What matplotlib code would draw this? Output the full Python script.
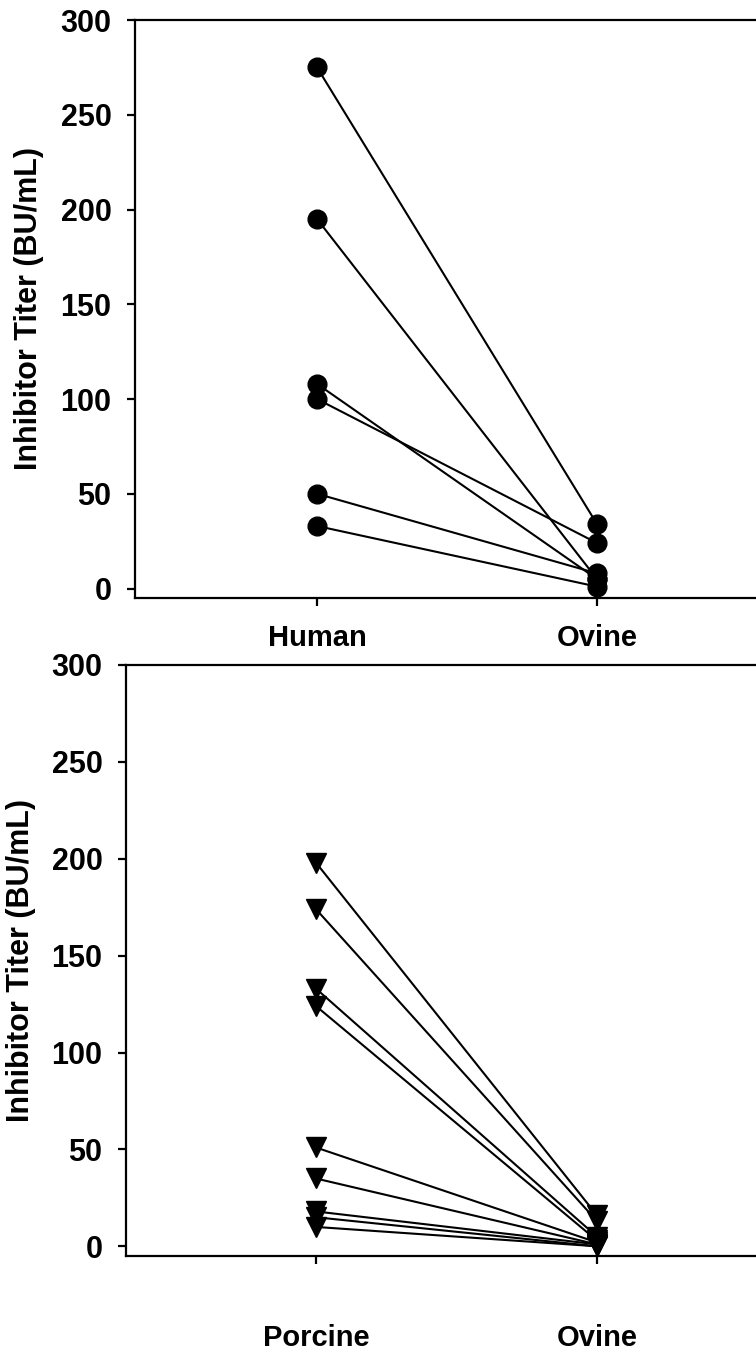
from matplotlib import pyplot as plt

plt.rcParams['font.family'] = ['Liberation Sans', 'DejaVu Sans']
plt.rcParams['font.weight'] = 'bold'

#%% Data (BU/mL)

## Top panel: Human vs Ovine
top_groups = ["Human", "Ovine"]
human = [275, 195, 108, 100, 50, 33]
ovine_top = [34, 5, 5, 24, 8, 1]

## Bottom panel: Porcine vs Ovine
bottom_groups = ["Porcine", "Ovine"]
porcine = [198, 174, 133, 124, 51, 35, 18, 15, 10]
ovine_bottom = [16, 13, 5, 3, 2, 1, 1, 0, 0]

y_ticks = [0, 50, 100, 150, 200, 250, 300]
y_label = 'Inhibitor Titer (BU/mL)'

#%% Figure

fig = plt.figure(figsize=(7.56, 13.68), dpi=100)

W, H = 756, 1368


def make_axes(left_px, top_px, bottom_px, x0, x1, px_per_unit, xpad):
    width_px = (x1 - x0) * px_per_unit
    ax = fig.add_axes([left_px / W, 1 - bottom_px / H, width_px / W, (bottom_px - top_px) / H])
    ax.set_xlim(x0, x1)
    ax.set_ylim(-5, 300)
    for s in ax.spines.values():
        s.set_linewidth(1.6)
    ax.tick_params(axis='both', direction='out', length=6, width=1.6)
    ax.tick_params(axis='y', pad=11, labelsize=22)
    ax.tick_params(axis='x', pad=xpad, labelsize=21)
    ax.set_yticks(y_ticks)
    return ax, width_px


def draw_pairs(ax, a, b, marker, ms):
    for v1, v2 in zip(a, b):
        ax.plot([1, 2], [v1, v2], color='k', lw=1.5, marker=marker, ms=ms,
                markerfacecolor='k', markeredgecolor='k', clip_on=False)


# top panel
ax1, w1 = make_axes(135, 20, 598, 0.35, 2.65, 280, 13)
draw_pairs(ax1, human, ovine_top, 'o', 13.5)
ax1.set_xticks([1, 2])
ax1.set_xticklabels(top_groups, fontweight='bold')
ax1.set_ylabel(y_label, fontsize=22, fontweight='bold')
ax1.yaxis.set_label_coords((44 - 135) / w1, 0.5)

# bottom panel
ax2, w2 = make_axes(126, 665, 1256, 0.324, 2.65, 281, 43)
draw_pairs(ax2, porcine, ovine_bottom, 'v', 15)
ax2.set_xticks([1, 2])
ax2.set_xticklabels(bottom_groups, fontweight='bold')
ax2.set_ylabel(y_label, fontsize=22, fontweight='bold')
ax2.yaxis.set_label_coords((36 - 126) / w2, 0.5)

plt.savefig('out.png', dpi=100)
